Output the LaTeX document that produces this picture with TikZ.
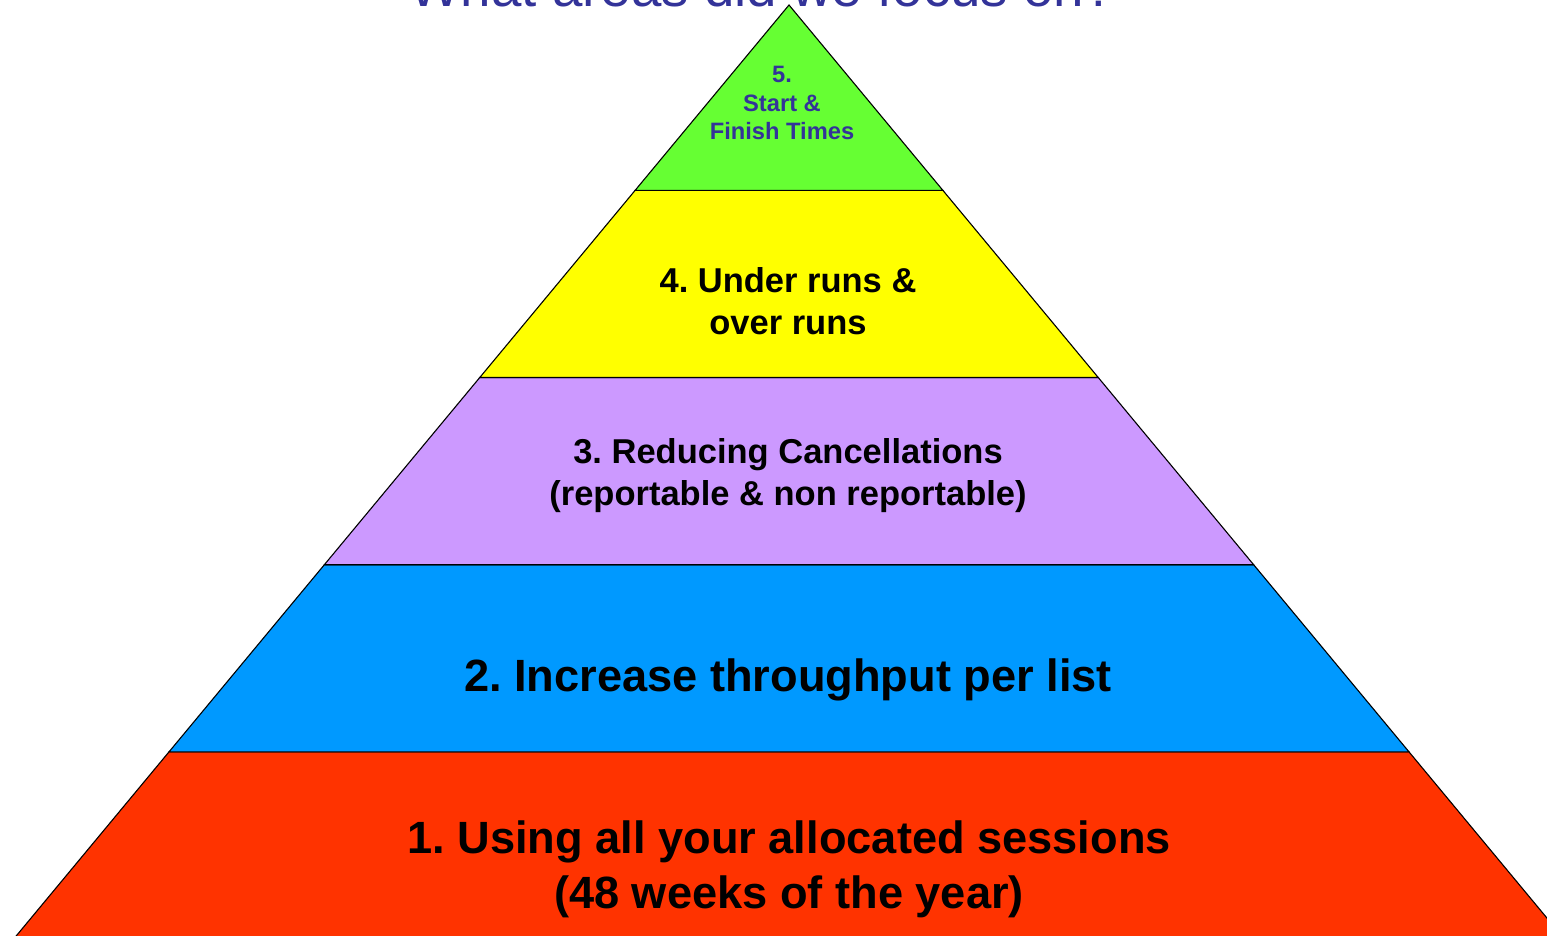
\documentclass[tikz,border=0pt]{standalone}
\usepackage{fontspec}
\setmainfont{Liberation Sans}
\usepackage{xcolor}
\usepackage{tikz}
\usetikzlibrary{calc}
\frenchspacing
\definecolor{titleblue}{RGB}{51,51,153}
\definecolor{layergreen}{RGB}{102,255,51}
\definecolor{layeryellow}{RGB}{255,255,0}
\definecolor{layerpurple}{RGB}{204,153,255}
\definecolor{layerblue}{RGB}{0,153,255}
\definecolor{layerred}{RGB}{255,51,0}
\tikzset{
  layer/.style={draw=black,line width=1.1pt,line join=miter},
  layertext/.style={align=center,inner sep=0pt,font=\bfseries},
  bigtext/.style={layertext,font=\fontsize{45.2}{55}\selectfont\bfseries},
  midtext/.style={layertext,font=\fontsize{34.5}{42}\selectfont\bfseries},
  tiptext/.style={layertext,text=titleblue,
    font=\fontsize{23.7}{28.5}\selectfont\bfseries}
}
\begin{document}
\begin{tikzpicture}[x=1pt,y=-1pt]
  \useasboundingbox (0,0) rectangle (1547,936);
  \clip (0,0) rectangle (1547,936);
  \coordinate (apex) at (789,5);
  \coordinate (bl) at (12,941);
  \coordinate (br) at (1566,941);
  % pyramid bands, bottom to top
  \foreach \lo/\hi/\col in {0.798/1/layerred,0.598/0.798/layerblue,
      0.398/0.598/layerpurple,0.198/0.398/layeryellow,0/0.198/layergreen}
    \filldraw[layer,fill=\col] ($(apex)!\lo!(bl)$) -- ($(apex)!\hi!(bl)$)
      -- ($(apex)!\hi!(br)$) -- ($(apex)!\lo!(br)$) -- cycle;
  % title, cut off at the top
  \node[anchor=base,inner sep=0pt,text=titleblue,
    font=\fontsize{54.7}{60}\selectfont] (title) at (762,7)
    {What areas did we focus on?};
  \node[tiptext] (five) at (782,103) {5.\\Start \&\\Finish Times};
  \node[midtext] (four) at (788,301) {4. Under runs \&\\over runs};
  \node[midtext] (three) at (788,476)
    {3. Reducing Cancellations\\(reportable \& non reportable)};
  \node[bigtext] (two) at (788,680) {2. Increase throughput per list};
  \node[bigtext] (one) at (789,869)
    {1. Using all your allocated sessions\\(48 weeks of the year)};
\end{tikzpicture}
\end{document}
